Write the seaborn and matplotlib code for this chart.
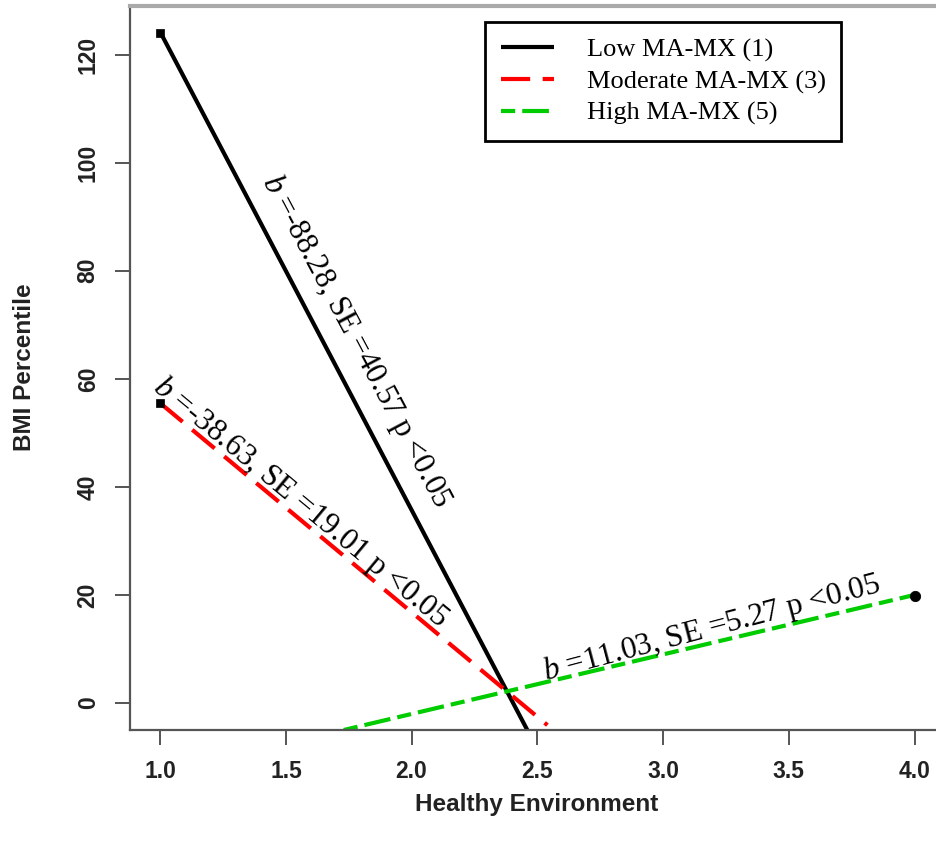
import matplotlib
matplotlib.use("Agg")
import matplotlib.pyplot as plt
import seaborn as sns
import pandas as pd

# ---- data ----
series_labels = ["Low MA-MX (1)", "Moderate MA-MX (3)", "High MA-MX (5)"]
low_x = [1.0, 2.46]
low_y = [124.2, -5.0]
mod_x = [1.0, 2.54]
mod_y = [55.5, -4.1]
high_x = [1.73, 4.0]
high_y = [-5.0, 20.0]
dot_x = [1.0, 1.0, 4.0]
dot_y = [124.0, 55.6, 19.8]
annotations = ["$\\it{b}$ =-88.28, SE =40.57 p <0.05",
               "$\\it{b}$ =-38.63, SE =19.01 p <0.05",
               "$\\it{b}$ =11.03, SE =5.27 p <0.05"]
x_ticks = [1.0, 1.5, 2.0, 2.5, 3.0, 3.5, 4.0]
y_ticks = [0, 20, 40, 60, 80, 100, 120]

sns.set_style("white")
plt.rcParams['font.family'] = ['Liberation Sans', 'DejaVu Sans']
plt.rcParams['mathtext.fontset'] = 'custom'
plt.rcParams['mathtext.it'] = 'Liberation Serif:italic'
plt.rcParams['mathtext.rm'] = 'Liberation Serif'

W, H = 936, 850
fig = plt.figure(figsize=(W / 100, H / 100), dpi=100)
ax_left, ax_right, ax_top, ax_bottom = 130, 944.7, 6, 730
ax = fig.add_axes([ax_left / W, 1 - ax_bottom / H, (ax_right - ax_left) / W, (ax_bottom - ax_top) / H])

serif = ['Liberation Serif', 'DejaVu Serif']

sns.lineplot(x=low_x, y=low_y, ax=ax, color="black", linewidth=3.0,
             label=series_labels[0], solid_capstyle="butt")
sns.lineplot(x=mod_x, y=mod_y, ax=ax, color="#ff0000", linewidth=3.0,
             linestyle=(0, (7, 3)), label=series_labels[1])
sns.lineplot(x=high_x, y=high_y, ax=ax, color="#00cc00", linewidth=3.0,
             linestyle=(0, (3.4, 1.7, 6.4, 1.7)), label=series_labels[2])

sns.scatterplot(x=dot_x[:2], y=dot_y[:2], ax=ax, color="black", marker="s", s=40,
                edgecolor="black", zorder=5, legend=False)
sns.scatterplot(x=dot_x[2:], y=dot_y[2:], ax=ax, color="black", marker="o", s=55,
                edgecolor="black", zorder=5, legend=False)

ax.set_xlim(0.88, 4.12)
ax.set_ylim(-5, 129)

# annotations along lines
ax.text(1.78, 67.0, annotations[0], rotation=-62, ha="center", va="center",
        rotation_mode="anchor", fontsize=22.5, family=serif, color="black")
ax.text(1.557, 37.2, annotations[1], rotation=-39.7, ha="center", va="center",
        rotation_mode="anchor", fontsize=22.5, family=serif, color="black")
ax.text(3.195, 13.9, annotations[2], rotation=14.8, ha="center", va="center",
        rotation_mode="anchor", fontsize=22.5, family=serif, color="black")

# ticks
ax.set_xticks(x_ticks)
ax.set_xticklabels([f"{t:.1f}" for t in x_ticks], fontsize=16.5, fontweight="bold", color="#222222")
ax.set_yticks(y_ticks)
ax.set_yticklabels([str(t) for t in y_ticks], fontsize=16.5, fontweight="bold", color="#222222",
                   rotation=90, va="center")
ax.tick_params(axis="both", which="major", direction="out", length=10.8, width=1.4,
               color="#555555", bottom=True, left=True)
ax.tick_params(axis="x", pad=11)
ax.tick_params(axis="y", pad=11)

ax.set_xlabel("Healthy Environment", fontsize=17.5, fontweight="bold", color="#222222")
ax.set_ylabel("BMI Percentile", fontsize=17.5, fontweight="bold", color="#222222")
ax.xaxis.set_label_coords((537 - ax_left) / (ax_right - ax_left), (ax_bottom - 793) / (ax_bottom - ax_top))
ax.yaxis.set_label_coords((36 - ax_left) / (ax_right - ax_left), (ax_bottom - 367) / (ax_bottom - ax_top))

for side in ["left", "bottom"]:
    ax.spines[side].set_color("#555555")
    ax.spines[side].set_linewidth(1.6)
ax.spines["top"].set_color("#aaaaaa")
ax.spines["top"].set_linewidth(3)
ax.spines["right"].set_color("#555555")

leg = ax.legend(loc="upper left", bbox_to_anchor=(485 / W, 1 - 22 / H),
                bbox_transform=fig.transFigure, frameon=True, fancybox=False,
                edgecolor="black", framealpha=1, borderaxespad=0,
                prop={'family': serif, 'size': 19}, handlelength=2.0,
                handletextpad=1.25, labelspacing=0.3, borderpad=0.6)
leg.get_frame().set_linewidth(2)
for t in leg.get_texts():
    t.set_color("black")

fig.savefig("out.png", dpi=100)
